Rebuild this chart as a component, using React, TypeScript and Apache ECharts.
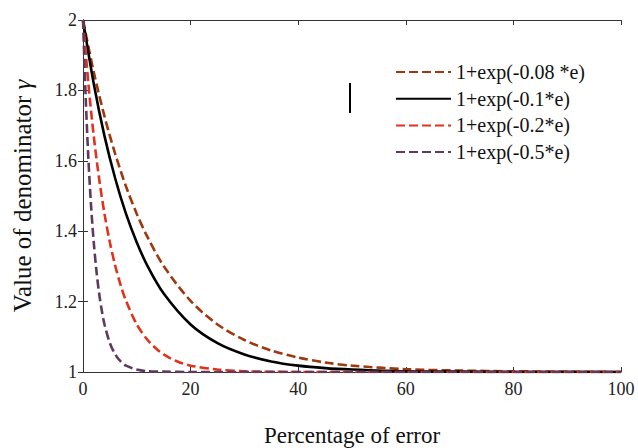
import React, { useEffect, useRef } from "react";
import * as echarts from "echarts";

const seriesNames = [
  "1+exp(-0.08 *e)",
  "1+exp(-0.1*e)",
  "1+exp(-0.2*e)",
  "1+exp(-0.5*e)",
];
const seriesColors = ["#a0380e", "#000000", "#e2321a", "#5e3a5c"];

const error08 = [0, 2, 4, 6, 8, 10, 12, 15, 20, 25, 30, 35, 40, 45, 50, 60, 70, 80, 90, 100];
const gamma08 = [2, 1.852, 1.726, 1.619, 1.527, 1.449, 1.383, 1.301, 1.202, 1.135, 1.091, 1.061, 1.041, 1.027, 1.018, 1.008, 1.004, 1.002, 1.001, 1.0];

const error01 = [0, 2, 4, 6, 8, 10, 12, 15, 20, 25, 30, 35, 40, 45, 50, 60, 70, 80, 90, 100];
const gamma01 = [2, 1.819, 1.67, 1.549, 1.449, 1.368, 1.301, 1.223, 1.135, 1.082, 1.05, 1.03, 1.018, 1.011, 1.007, 1.002, 1.001, 1.0, 1.0, 1.0];

const error02 = [0, 1, 2, 3, 4, 5, 6, 7, 8, 10, 12, 14, 16, 18, 20, 25, 30, 40, 50, 60, 80, 100];
const gamma02 = [2, 1.819, 1.67, 1.549, 1.449, 1.368, 1.301, 1.247, 1.202, 1.135, 1.091, 1.061, 1.041, 1.027, 1.018, 1.007, 1.002, 1.0, 1.0, 1.0, 1.0, 1.0];

const error05 = [0, 0.5, 1, 1.5, 2, 2.5, 3, 3.5, 4, 5, 6, 7, 8, 10, 12, 15, 20, 30, 50, 100];
const gamma05 = [2, 1.779, 1.607, 1.472, 1.368, 1.287, 1.223, 1.174, 1.135, 1.082, 1.05, 1.03, 1.018, 1.007, 1.002, 1.001, 1.0, 1.0, 1.0, 1.0];

const xTitle = "Percentage of error";
const yTitle = "Value of denominator {i|γ}";

const FONT = "'Liberation Serif', 'Times New Roman', serif";

function pairs(xs: number[], ys: number[]) {
  return xs.map((x, i) => [x, ys[i]]);
}

export default function App() {
  const ref = useRef<HTMLDivElement>(null);
  useEffect(() => {
    if (!ref.current) return;
    const chart = echarts.init(ref.current, undefined, { renderer: "svg" });
    const datasets = [
      pairs(error08, gamma08),
      pairs(error01, gamma01),
      pairs(error02, gamma02),
      pairs(error05, gamma05),
    ];
    const axisLine = { show: true, lineStyle: { color: "#333", width: 1 } };
    const tickStyle = { show: true, inside: true, length: 5, lineStyle: { color: "#333" } };
    chart.setOption({
      animation: false,
      backgroundColor: "#fff",
      grid: {
        left: 83,
        right: 17,
        top: 20,
        bottom: 76,
        containLabel: false,
        outerBoundsMode: "none",
      },
      legend: {
        orient: "vertical",
        left: 390,
        top: 57,
        itemWidth: 55,
        itemHeight: 14,
        itemGap: 6.7,
        itemStyle: { opacity: 0, borderWidth: 0 },
        textStyle: { fontFamily: FONT, fontSize: 20, color: "#111" },
        data: seriesNames,
      },
      xAxis: [
        {
          type: "value",
          min: 0,
          max: 100,
          interval: 20,
          position: "bottom",
          axisLine,
          axisTick: tickStyle,
          splitLine: { show: false },
          axisLabel: { fontFamily: FONT, fontSize: 18, color: "#222", margin: 8 },
          name: xTitle,
          nameLocation: "middle",
          nameGap: 52,
          nameTextStyle: { fontFamily: FONT, fontSize: 23, color: "#111" },
        },
        {
          type: "value",
          min: 0,
          max: 100,
          interval: 20,
          position: "top",
          axisLine,
          axisTick: tickStyle,
          splitLine: { show: false },
          axisLabel: { show: false },
        },
      ],
      yAxis: [
        {
          type: "value",
          min: 1,
          max: 2,
          interval: 0.2,
          position: "left",
          axisLine,
          axisTick: tickStyle,
          splitLine: { show: false },
          axisLabel: { fontFamily: FONT, fontSize: 18, color: "#222", margin: 6 },
          name: yTitle,
          nameLocation: "middle",
          nameGap: 48,
          nameRotate: 90,
          nameTextStyle: {
            fontFamily: FONT,
            fontSize: 25,
            color: "#111",
            rich: { i: { fontFamily: FONT, fontSize: 25, fontStyle: "italic", color: "#111" } },
          },
        },
        {
          type: "value",
          min: 1,
          max: 2,
          interval: 0.2,
          position: "right",
          axisLine,
          axisTick: tickStyle,
          splitLine: { show: false },
          axisLabel: { show: false },
        },
      ],
      graphic: [
        {
          type: "line",
          shape: { x1: 350, y1: 83, x2: 350, y2: 113 },
          style: { stroke: "#000", lineWidth: 2 },
        },
      ],
      series: datasets.map((d, i) => ({
        name: seriesNames[i],
        type: "line",
        data: d,
        showSymbol: false,
        symbol: "none",
        smooth: 0.3,
        color: seriesColors[i],
        lineStyle: {
          color: seriesColors[i],
          width: 2.6,
          type: i === 1 ? "solid" : [9, 4],
        },
        z: 2 + i,
      })),
    });
    return () => chart.dispose();
  }, []);
  return (
    <div
      ref={ref}
      style={{ position: "fixed", left: 0, top: 0, width: 638, height: 448, background: "#fff" }}
    />
  );
}
